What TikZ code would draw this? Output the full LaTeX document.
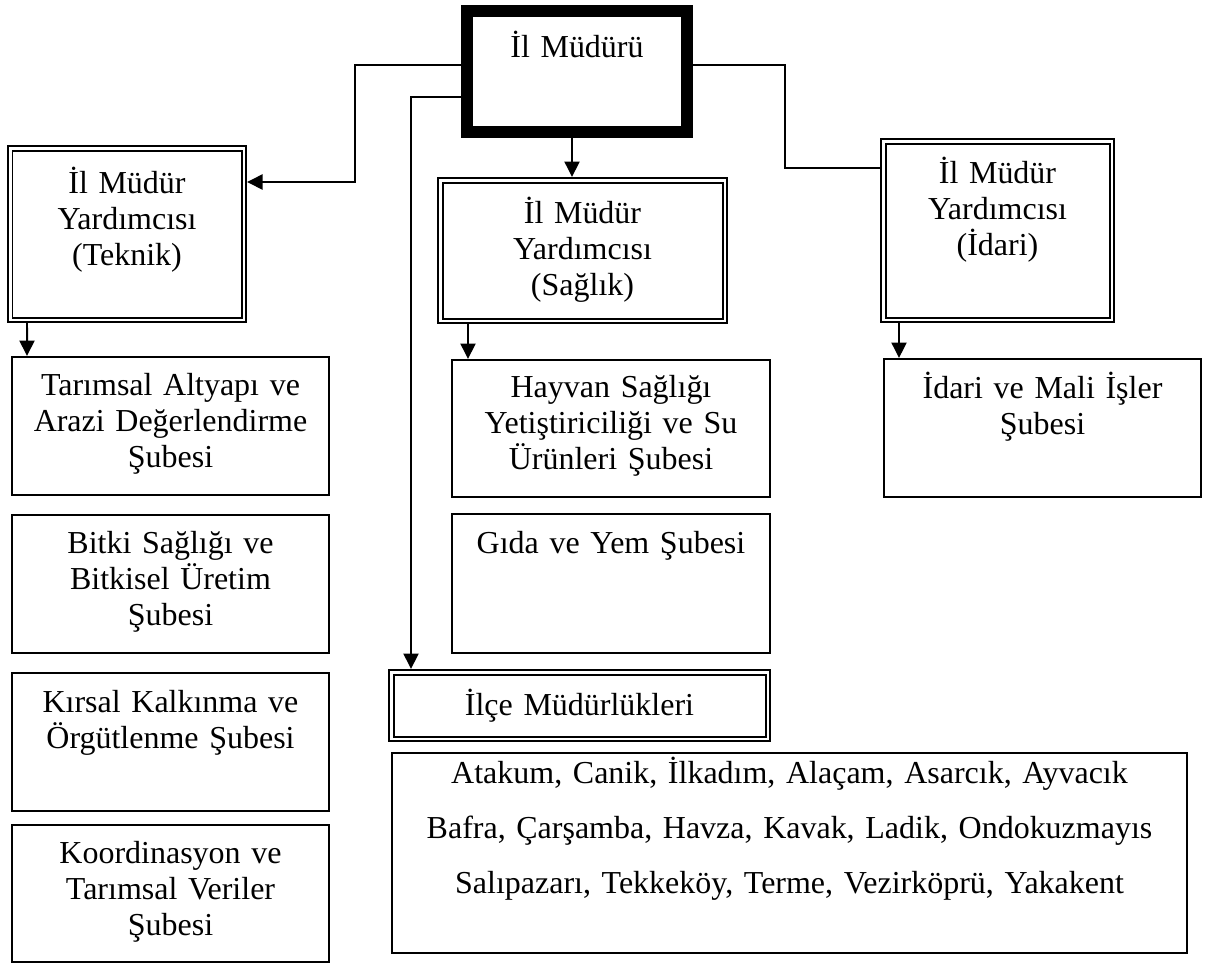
\documentclass[tikz,border=0pt]{standalone}
\usepackage{fontspec}
\setmainfont{Liberation Serif}
\usetikzlibrary{arrows.meta}

\tikzset{
  kutu/.style={draw, line width=0.04cm, outer sep=0.02cm, inner sep=0pt,
    anchor=north west, align=center,
    font=\fontsize{18.2pt}{20.7pt}\selectfont},
  ciftkutu/.style={kutu, double, double distance=0.05cm, outer sep=0.065cm},
  kalinkutu/.style={kutu, line width=0.24cm, outer sep=0.12cm},
  ok/.style={line width=0.04cm, -{Triangle[length=0.31cm,width=0.3cm]}},
  hat/.style={line width=0.04cm}
}

\begin{document}
\begin{tikzpicture}
    \useasboundingbox (0,0) rectangle (24.22,-19.34);

    % il mudurlugu
    \node[kalinkutu, minimum width=4.4cm, text width=4.2cm, text height=0.92cm, text depth=1.5cm] (mudur) at (9.22,-0.1) {İl Müdürü};

    % yardimcilar
    \node[ciftkutu, minimum width=4.67cm, text width=4.4cm, text height=0.895cm, text depth=2.535cm] (teknik) at (0.14,-2.9) {İl Müdür\\Yardımcısı\\(Teknik)};
    \node[ciftkutu, minimum width=5.69cm, text width=5.4cm, text height=0.855cm, text depth=1.955cm] (saglik) at (8.74,-3.54) {İl Müdür\\Yardımcısı\\(Sağlık)};
    \node[ciftkutu, minimum width=4.57cm, text width=4.3cm, text height=0.835cm, text depth=2.735cm] (idari) at (17.6,-2.76) {İl Müdür\\Yardımcısı\\(İdari)};

    % subeler
    \node[kutu, minimum width=6.34cm, text width=6.1cm, text height=0.76cm, text depth=2cm] (tarimsal) at (0.22,-7.12) {Tarımsal Altyapı ve\\Arazi Değerlendirme\\Şubesi};
    \node[kutu, minimum width=6.34cm, text width=6.1cm, text height=0.76cm, text depth=2cm] (bitki) at (0.22,-10.28) {Bitki Sağlığı ve\\Bitkisel Üretim\\Şubesi};
    \node[kutu, minimum width=6.34cm, text width=6.1cm, text height=0.78cm, text depth=1.98cm] (kirsal) at (0.22,-13.44) {Kırsal Kalkınma ve\\Örgütlenme Şubesi};
    \node[kutu, minimum width=6.34cm, text width=6.1cm, text height=0.76cm, text depth=1.98cm] (koord) at (0.22,-16.48) {Koordinasyon ve\\Tarımsal Veriler\\Şubesi};

    \node[kutu, minimum width=6.36cm, text width=6.1cm, text height=0.74cm, text depth=2cm] (hayvan) at (9.02,-7.18) {Hayvan Sağlığı\\Yetiştiriciliği ve Su\\Ürünleri Şubesi};
    \node[kutu, minimum width=6.36cm, text width=6.1cm, text height=0.78cm, text depth=2cm] (gida) at (9.02,-10.26) {Gıda ve Yem Şubesi};

    \node[kutu, minimum width=6.34cm, text width=6.1cm, text height=0.78cm, text depth=1.98cm] (mali) at (17.66,-7.16) {İdari ve Mali İşler\\Şubesi};

    % ilceler
    \node[ciftkutu, minimum width=7.53cm, text width=7.2cm, text height=0.855cm, text depth=0.475cm] (ilce) at (7.76,-13.38) {İlçe Müdürlükleri};
    \node[kutu, minimum width=15.9cm, text width=15.6cm, text height=0.6cm, text depth=3.4cm, font=\fontsize{18.2pt}{31.5pt}\selectfont] (ilceler) at (7.82,-15.04) {Atakum, Canik, İlkadım, Alaçam, Asarcık, Ayvacık\\Bafra, Çarşamba, Havza, Kavak, Ladik, Ondokuzmayıs\\Salıpazarı, Tekkeköy, Terme, Vezirköprü, Yakakent};

    % baglantilar
    \draw[ok] ([yshift=0.13cm]mudur.west) -- ++(-2.12cm,0) |- ([yshift=1.04cm]teknik.east);
    \draw[ok] ([yshift=-0.51cm]mudur.west) -| ([xshift=0.46cm]ilce.north west);
    \draw[ok] ([xshift=2.22cm]mudur.south west) -- ([xshift=2.7cm]saglik.north west);
    \draw[hat] ([yshift=0.13cm]mudur.east) -- ++(1.84cm,0) |- ([yshift=1.25cm]idari.west);

    \draw[ok] ([xshift=0.4cm]teknik.south west) -- ([xshift=0.32cm]tarimsal.north west);
    \draw[ok] ([xshift=0.62cm]saglik.south west) -- ([xshift=0.34cm]hayvan.north west);
    \draw[ok] ([xshift=0.38cm]idari.south west) -- ([xshift=0.32cm]mali.north west);
\end{tikzpicture}
\end{document}
